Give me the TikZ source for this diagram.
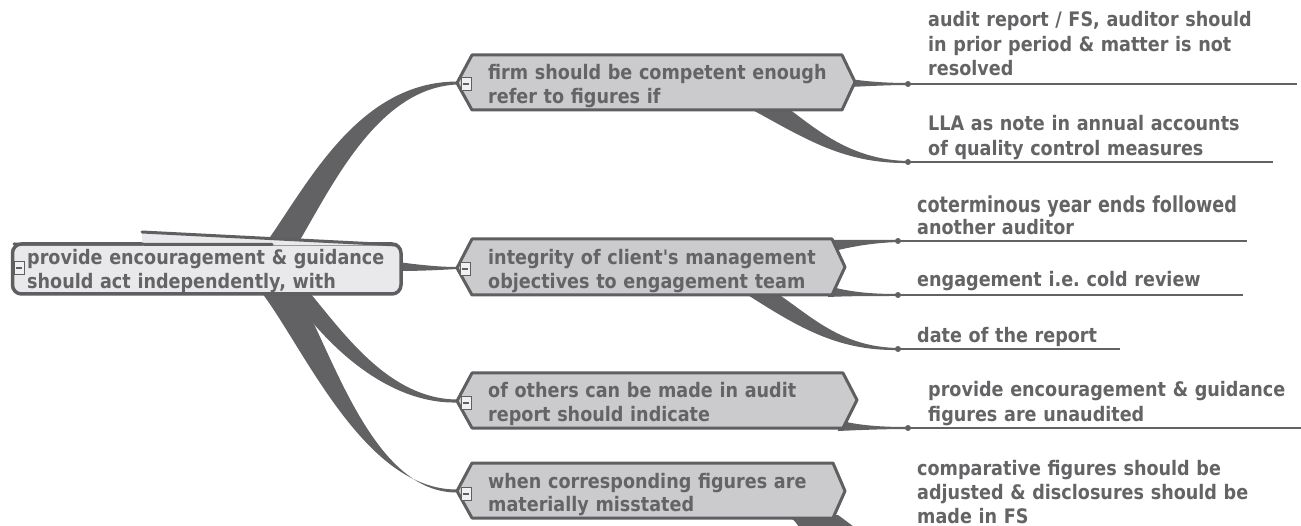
\documentclass[tikz,border=0pt]{standalone}
\usepackage{fontspec}
\setmainfont{DejaVu Sans}
\newfontfamily\nf{DejaVu Sans}[FakeStretch=0.88]
\newfontfamily\cf{DejaVu Sans}[FakeStretch=0.8]
\usetikzlibrary{calc}
\definecolor{txt}{HTML}{646466}
\definecolor{brn}{HTML}{626264}
\definecolor{bord}{HTML}{5F5F61}
\definecolor{cfill}{HTML}{CBCBCD}
\definecolor{rfill}{HTML}{E9E9EB}
\definecolor{ifill}{HTML}{F0F0F0}
\frenchspacing
\begin{document}
\begin{tikzpicture}[x=1pt,y=-1pt,
  lbl/.style={anchor=base west, inner sep=0pt, text width=400pt, align=left, text=txt, font=\nf\bfseries\fontsize{20}{23.5}\selectfont},
  leaf/.style={lbl, font=\nf\bfseries\fontsize{20}{24.3}\selectfont},
  hexa/.style={draw=bord, fill=cfill, line width=3pt, line join=round},
  branch/.style={fill=brn, draw=none},
  uline/.style={draw=brn, line width=1.8pt},
  dot/.style={circle, fill=brn, inner sep=0pt, minimum size=6pt},
  ico/.style={rectangle, draw=bord, fill=ifill, line width=0.9pt, minimum width=10pt, minimum height=13pt, inner sep=0pt,
    path picture={\draw[bord, line width=1.4pt] ([xshift=2pt]path picture bounding box.west) -- ([xshift=-2pt]path picture bounding box.east);}},
]
\useasboundingbox[fill=white] (0,0) rectangle (1301,526);

% anchor points
\coordinate (c1w) at (457,83);
\coordinate (c2w) at (457,268);
\coordinate (c3w) at (457,401);
\coordinate (c4w) at (457,491);
\coordinate (p1a) at (908,84);  \coordinate (e1a) at (1297,84);
\coordinate (p1b) at (908,162); \coordinate (e1b) at (1273,162);
\coordinate (p2a) at (898,241); \coordinate (e2a) at (1247,241);
\coordinate (p2b) at (898,295); \coordinate (e2b) at (1243,295);
\coordinate (p2c) at (898,349); \coordinate (e2c) at (1120,349);
\coordinate (p3a) at (908,428); \coordinate (e3a) at (1301,428);

% root branches
\fill[branch] (257,255) -- (268,240) .. controls (310,180) and (360,82) .. ($(c1w)+(0,-1.5)$)
  -- ($(c1w)+(0,1.5)$) .. controls (380,88) and (335,180) .. (300,240) -- (291,255) -- cycle;
\fill[branch] (398,262) .. controls (420,265) and (440,267) .. ($(c2w)+(0,-1)$)
  -- ($(c2w)+(0,1)$) .. controls (440,270) and (420,271) .. (398,271) -- cycle;
\fill[branch] (308,285) -- (310,293) .. controls (345,335) and (390,399) .. ($(c3w)+(0,-1.5)$)
  -- ($(c3w)+(0,1.5)$) .. controls (390,404) and (330,350) .. (292,296) -- (290,285) -- cycle;
\fill[branch] (258,285) -- (262,293) .. controls (305,350) and (365,490) .. ($(c4w)+(0,-1.5)$)
  -- ($(c4w)+(0,1.5)$) .. controls (375,493) and (335,360) .. (300,296) -- (300,285) -- cycle;

% child-to-leaf branches
\fill[branch] (850,79) .. controls (870,82) and (890,83) .. ($(p1a)+(0,-1)$)
  -- ($(p1a)+(0,1)$) .. controls (890,85) and (870,86) .. (850,87) -- cycle;
\fill[branch] (785,106) .. controls (815,128) and (850,160) .. ($(p1b)+(0,-1)$)
  -- ($(p1b)+(0,1)$) .. controls (840,164) and (800,135) .. (745,106) -- cycle;
\fill[branch] (830,240) .. controls (850,240) and (875,240) .. ($(p2a)+(0,-1)$)
  -- ($(p2a)+(0,1)$) .. controls (870,243) and (850,247) .. (830,252) -- cycle;
\fill[branch] (828,286) .. controls (850,292) and (870,294) .. ($(p2b)+(0,-1)$)
  -- ($(p2b)+(0,1)$) .. controls (870,296) and (850,296) .. (828,297) -- cycle;
\fill[branch] (775,292) .. controls (810,315) and (840,347) .. ($(p2c)+(0,-1)$)
  -- ($(p2c)+(0,1)$) .. controls (835,351) and (795,325) .. (743,292) -- cycle;
\fill[branch] (838,420) .. controls (860,426) and (885,427) .. ($(p3a)+(0,-1)$)
  -- ($(p3a)+(0,1)$) .. controls (885,429) and (860,430) .. (838,431) -- cycle;
\fill[branch] (785,515) -- (838,515) .. controls (845,520) and (850,524) .. (858,530)
  -- (800,530) .. controls (798,524) and (794,519) .. (785,515) -- cycle;

% leaf underlines
\draw[uline] (p1a) -- (e1a);
\draw[uline] (p1b) -- (e1b);
\draw[uline] (p2a) -- (e2a);
\draw[uline] (p2b) -- (e2b);
\draw[uline] (p2c) -- (e2c);
\draw[uline] (p3a) -- (e3a);
\foreach \p in {p1a,p1b,p2a,p2b,p2c,p3a} \node[dot] at (\p) {};

% root shape
\draw[draw=bord, fill=rfill, line width=3.5pt, rounded corners=9pt] (12.5,244) rectangle (401,294);
\fill[rfill] (142,232) -- (397,245) -- (142,245.5) -- cycle;
\draw[bord, line width=3pt, line cap=round] (14,244) -- (272,244.5);
\draw[bord, line width=3pt, line cap=round] (142,232) -- (397,245);

% child hexagons
\draw[hexa] (c1w) -- (472,55) -- (842,55) -- (855,82) -- (842,110) -- (472,110) -- cycle;
\draw[hexa] (c2w) -- (472,239) -- (832,239) -- (845,267) -- (832,295) -- (472,295) -- cycle;
\draw[hexa] (c3w) -- (472,373) -- (843,373) -- (857,400) -- (843,428) -- (472,428) -- cycle;
\draw[hexa] (c4w) -- (472,463) -- (833,463) -- (845,491) -- (833,518) -- (472,518) -- cycle;

% collapse icons
\node[ico] (m0) at (19,268) {};
\node[ico] (m1) at (466,84) {};
\node[ico] (m2) at (465,269) {};
\node[ico] (m3) at (466,403) {};
\node[ico] (m4) at (466,494) {};

% texts
\node[lbl] (r) at (27,265) {provide encouragement \& guidance\\should act independently, with};
\node[lbl] (c1) at (488,80) {firm should be competent enough\\refer to figures if};
\node[lbl] (c2) at (488,265) {integrity of client's management\\objectives to engagement team};
\node[lbl] (c3) at (488,398) {of others can be made in audit\\report should indicate};
\node[lbl] (c4) at (488,488) {when corresponding figures are\\materially misstated};

\node[leaf] (l1a) at (928,27) {audit report / FS, auditor should\\in prior period \& matter is not\\resolved};
\node[leaf, font=\nf\bfseries\fontsize{20}{25}\selectfont] (l1b) at (928,130.5) {LLA as note in annual accounts\\of quality control measures};
\node[leaf, font=\nf\bfseries\fontsize{20}{22}\selectfont] (l2a) at (917,212.3) {{\cf\fontsize{22}{22}\selectfont coterminous year ends followed}\\another auditor};
\node[leaf] (l2b) at (917,286.5) {engagement i.e. cold review};
\node[leaf] (l2c) at (917,343) {date of the report};
\node[leaf, font=\nf\bfseries\fontsize{20}{25}\selectfont] (l3a) at (928,396) {provide encouragement \& guidance\\figures are unaudited};
\node[leaf] (l4a) at (917,475) {comparative figures should be\\adjusted \& disclosures should be\\made in FS};
\end{tikzpicture}
\end{document}
